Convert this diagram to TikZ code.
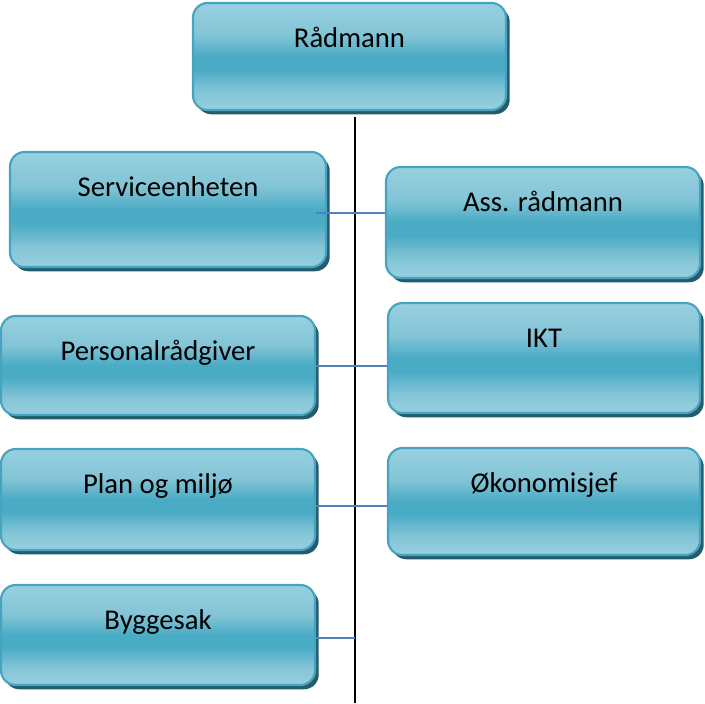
\documentclass[tikz,border=0pt]{standalone}
\usepackage{fontspec}
\setmainfont{Carlito}
\usetikzlibrary{shadows}
\definecolor{lt}{RGB}{152,208,223}
\definecolor{lt2}{RGB}{130,196,214}
\definecolor{dk}{RGB}{74,171,197}
\definecolor{edgecol}{RGB}{70,164,192}
\definecolor{shad}{RGB}{36,92,108}
\definecolor{conncol}{RGB}{79,129,189}
\pgfdeclareverticalshading{boxshade}{100bp}{color(0bp)=(lt); color(25bp)=(lt); color(34bp)=(lt2); color(44bp)=(dk); color(50bp)=(dk); color(60bp)=(lt2); color(75bp)=(lt); color(100bp)=(lt)}
\begin{document}
\begin{tikzpicture}[x=0.75pt,y=-0.75pt,
  orgbox/.style 2 args={rectangle, rounded corners=11pt, draw=edgecol, line width=1.6pt,
    shade, shading=boxshade, inner sep=0pt,
    minimum width={#1*0.75pt}, minimum height={#2*0.75pt},
    drop shadow={shadow xshift=2.8pt, shadow yshift=-3.2pt, opacity=1, fill=shad}},
  boxtext/.style={anchor=base, yshift=-34.5pt, font=\fontsize{21.5pt}{25pt}\selectfont, text=black},
  conn/.style={draw=conncol, line width=1.1pt},
  trunk/.style={draw=black, line width=1.5pt}]
\useasboundingbox (0,0) rectangle (705,703);
\node[orgbox={313}{107}, label={[boxtext]north:Rådmann}] (rad) at (349.5,56.5) {};
\node[orgbox={316}{115}, label={[boxtext]north:Serviceenheten}] (serv) at (168,209.5) {};
\node[orgbox={314}{111}, label={[boxtext]north:Ass. rådmann}] (ass) at (543,222.5) {};
\node[orgbox={314}{99}, label={[boxtext]north:Personalrådgiver}] (pers) at (158,365.5) {};
\node[orgbox={312}{110}, label={[boxtext]north:IKT}] (ikt) at (544,358) {};
\node[orgbox={314}{101}, label={[boxtext]north:Plan og miljø}] (plan) at (158,499.5) {};
\node[orgbox={312}{107}, label={[boxtext]north:Økonomisjef}] (oko) at (544,501.5) {};
\node[orgbox={314}{100}, label={[boxtext]north:Byggesak}] (bygg) at (158,635) {};
\coordinate (vtop) at (355,117);
\coordinate (vbot) at (355,703);
\draw[trunk] (vtop) -- (vbot);
\coordinate (c1) at (316,213);
\coordinate (c2) at (316,366);
\coordinate (c3) at (316,506);
\coordinate (c4) at (316,638);
\draw[conn] (c1) -- (c1 -| ass.west);
\draw[conn] (c2) -- (c2 -| ikt.west);
\draw[conn] (c3) -- (c3 -| oko.west);
\draw[conn] (c4) -- (c4 -| vtop);
\end{tikzpicture}
\end{document}
